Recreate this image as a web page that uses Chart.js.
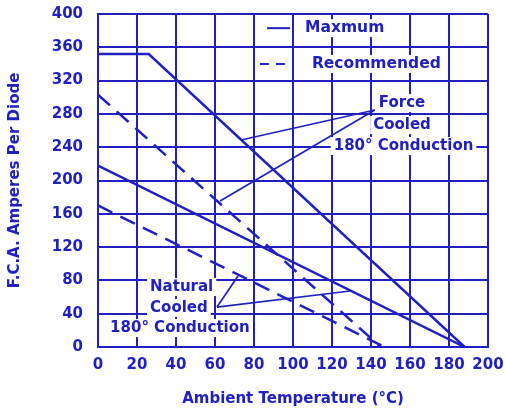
<!DOCTYPE html>
<html>
<head>
<meta charset="utf-8">
<script src="https://cdn.jsdelivr.net/npm/chart.js@4.4.1/dist/chart.umd.min.js"></script>
<style>
  html, body { margin: 0; padding: 0; background: #fff; }
  #wrap { width: 505px; height: 410px; }
</style>
</head>
<body>
<div id="wrap"><canvas id="chart"></canvas></div>
<script>
// Ambient temperature (C) vs amperes per diode
const forceMaxTemp = [0, 26, 188];
const forceMaxAmps = [352, 352, 0];
const forceRecTemp = [0, 145];
const forceRecAmps = [303, 0];
const naturalMaxTemp = [0, 188];
const naturalMaxAmps = [218, 0];
const naturalRecTemp = [0, 147];
const naturalRecAmps = [170, 0];

const legendNames = ['Maxmum', 'Recommended'];
const forceNote = ['Force', 'Cooled', '180° Conduction'];
const naturalNote = ['Natural', 'Cooled', '180° Conduction'];

const BLUE = '#2020c0';
const FONT = '"DejaVu Sans", sans-serif';

function toPoints(xs, ys) {
    return xs.map((v, i) => ({ x: v, y: ys[i] }));
}

function lineSet(label, xs, ys, dashed) {
    return {
        label: label,
        data: toPoints(xs, ys),
        showLine: true,
        borderColor: BLUE,
        borderWidth: 2.5,
        borderDash: dashed ? [16, 9] : [],
        pointRadius: 0,
        fill: false
    };
}

// text boxes, pointer lines and the small legend, placed in chart units
const notePlugin = {
    id: 'notes',
    afterDraw(chart) {
        const { ctx, scales: { x, y } } = chart;
        const px = v => x.getPixelForValue(v);
        const py = v => y.getPixelForValue(v);

        const texts = [
            { t: legendNames[0], x: 106.2, y: 383, align: 'left', size: 15.5 },
            { t: legendNames[1], x: 109.7, y: 340, align: 'left', size: 15.5 },
            { t: forceNote[0], x: 155.9, y: 293, align: 'center', size: 15 },
            { t: forceNote[1], x: 155.9, y: 266.5, align: 'center', size: 15 },
            { t: forceNote[2], x: 156.7, y: 241.4, align: 'center', size: 15 },
            { t: naturalNote[0], x: 26.7, y: 72, align: 'left', size: 15 },
            { t: naturalNote[1], x: 26.7, y: 47, align: 'left', size: 15 },
            { t: naturalNote[2], x: 6.2, y: 22.8, align: 'left', size: 15 }
        ];

        ctx.save();
        ctx.textBaseline = 'middle';

        // white boxes behind the words hide the grid
        texts.forEach(n => {
            ctx.font = 'bold ' + n.size + 'px ' + FONT;
            const w = ctx.measureText(n.t).width;
            const cx = px(n.x);
            const left = n.align === 'center' ? cx - w / 2 : cx;
            ctx.fillStyle = '#fff';
            ctx.fillRect(left - 3, py(n.y) - 9, w + 6, 18);
        });

        // pointer lines
        const pointers = [
            [142, 284.7, 73.3, 248.6],
            [142, 284.7, 62.6, 175.4],
            [61, 48, 71.8, 85.3],
            [61, 48, 129.2, 67.3]
        ];
        ctx.strokeStyle = BLUE;
        ctx.lineWidth = 1.7;
        pointers.forEach(p => {
            ctx.beginPath();
            ctx.moveTo(px(p[0]), py(p[1]));
            ctx.lineTo(px(p[2]), py(p[3]));
            ctx.stroke();
        });

        // legend samples
        ctx.lineWidth = 2;
        ctx.beginPath();
        ctx.moveTo(px(86.7), py(383));
        ctx.lineTo(px(98.5), py(383));
        ctx.stroke();
        ctx.setLineDash([9, 7]);
        ctx.beginPath();
        ctx.moveTo(px(83), py(340));
        ctx.lineTo(px(98.5), py(340));
        ctx.stroke();
        ctx.setLineDash([]);

        ctx.fillStyle = BLUE;
        texts.forEach(n => {
            ctx.font = 'bold ' + n.size + 'px ' + FONT;
            ctx.textAlign = n.align;
            ctx.fillText(n.t, px(n.x), py(n.y));
        });
        ctx.restore();
    }
};

const tickFont = { family: FONT, size: 15, weight: 'bold' };

new Chart(document.getElementById('chart'), {
    type: 'scatter',
    data: {
        datasets: [
            lineSet('Force cooled maximum', forceMaxTemp, forceMaxAmps, false),
            lineSet('Force cooled recommended', forceRecTemp, forceRecAmps, true),
            lineSet('Natural cooled maximum', naturalMaxTemp, naturalMaxAmps, false),
            lineSet('Natural cooled recommended', naturalRecTemp, naturalRecAmps, true)
        ]
    },
    options: {
        responsive: true,
        maintainAspectRatio: false,
        animation: false,
        layout: { padding: { left: 0, top: 14, right: 17, bottom: 0 } },
        plugins: {
            legend: { display: false },
            tooltip: { enabled: false }
        },
        scales: {
            x: {
                type: 'linear',
                min: 0,
                max: 200,
                afterFit: s => { s.height = 63; s.paddingLeft = 0; s.paddingRight = 0; },
                ticks: { stepSize: 20, color: BLUE, font: tickFont, padding: 9, maxRotation: 0 },
                grid: { color: BLUE, lineWidth: 2, drawTicks: false },
                border: { color: BLUE, width: 2 },
                title: {
                    display: true,
                    text: 'Ambient Temperature (°C)',
                    color: BLUE,
                    font: tickFont,
                    padding: { top: 0, bottom: 2 }
                }
            },
            y: {
                type: 'linear',
                min: 0,
                max: 400,
                afterFit: s => { s.width = 98; s.paddingTop = 0; s.paddingBottom = 0; },
                ticks: { stepSize: 40, color: BLUE, font: tickFont, padding: 15 },
                grid: { color: BLUE, lineWidth: 2, drawTicks: false },
                border: { color: BLUE, width: 2 },
                title: {
                    display: true,
                    text: 'F.C.A. Amperes Per Diode',
                    color: BLUE,
                    font: tickFont,
                    padding: { top: 6, bottom: 0 }
                }
            }
        }
    },
    plugins: [notePlugin]
});
</script>
</body>
</html>
